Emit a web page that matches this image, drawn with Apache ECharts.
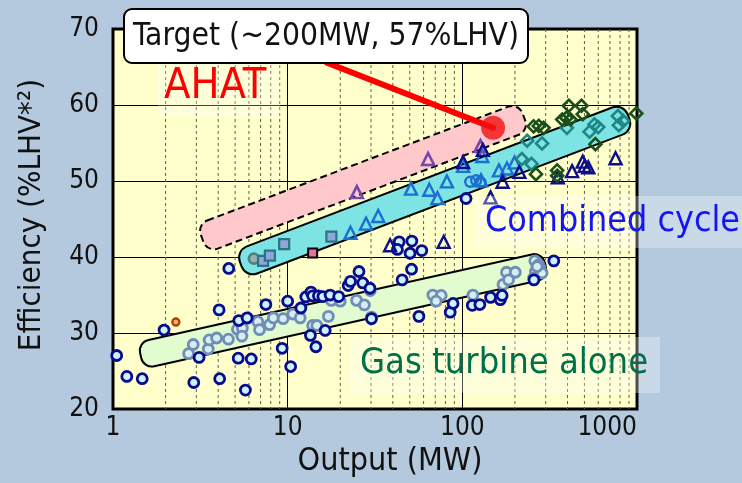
<!DOCTYPE html>
<html>
<head>
<meta charset="utf-8">
<script src="https://cdn.jsdelivr.net/npm/echarts@6/dist/echarts.min.js"></script>
<style>
  html, body { margin: 0; padding: 0; background: #b4c9dd; }
  #chart { width: 742px; height: 483px; }
</style>
</head>
<body>
<div id="chart"></div>
<script>
// Efficiency vs output of gas-turbine plants (log output axis)
const FONT = "'DejaVu Sans Condensed', 'DejaVu Sans', sans-serif";

const xTickLabels = [1, 10, 100, 1000];
const yTickLabels = [20, 30, 40, 50, 60, 70];
const xMinorLines = [2, 3, 4, 5, 6, 7, 8, 9, 20, 30, 40, 50, 60, 70, 80, 90,
                     200, 300, 400, 500, 600, 700, 800, 900];

// Gas turbine alone (simple cycle) plants
const gasTurbineNavy = [
  [1.05, 27.05], [1.2, 24.3], [1.47, 24.0], [1.96, 30.4], [2.9, 23.5], [3.11, 26.8],
  [4.05, 33.05], [4.08, 24.0], [5.21, 26.7], [5.73, 22.5], [6.19, 26.6], [5.25, 31.65],
  [5.86, 32.0], [4.6, 38.5], [7.5, 33.75], [9.3, 28.0], [10.0, 34.2], [10.4, 25.6],
  [11.9, 33.3], [12.7, 34.75], [13.6, 35.4], [13.9, 34.9], [13.5, 29.7], [14.5, 28.2],
  [15.0, 34.9], [15.9, 34.8], [16.4, 30.35], [17.5, 35.0], [19.6, 34.8], [22.2, 36.25],
  [22.9, 36.8], [25.6, 38.1], [26.9, 36.6], [29.6, 35.9], [30.2, 31.9], [43.5, 42.0],
  [51.4, 42.1], [42.5, 41.0], [50.2, 40.5], [58.6, 40.85], [51.2, 38.4], [45.2, 37.0],
  [56.4, 32.2], [85.2, 32.75], [88.5, 33.9], [114, 33.65], [126, 33.75], [145, 34.7],
  [165, 34.4], [169, 34.95], [257, 37.0], [334, 39.5], [105, 47.7]
];
const gasTurbineGrey = [
  [2.71, 27.3], [2.88, 28.5], [3.51, 27.9], [3.55, 29.1], [3.92, 29.35], [4.58, 29.2],
  [5.16, 30.5], [5.5, 30.65], [5.47, 29.6], [5.88, 31.95], [6.75, 31.5], [6.9, 30.45],
  [7.88, 31.1], [8.28, 32.0], [9.42, 31.9], [10.7, 32.5], [11.8, 32.0], [13.9, 31.0],
  [14.7, 31.0], [17.1, 32.2], [17.8, 34.3], [20.0, 34.2], [24.8, 34.3], [27.5, 33.7],
  [29.7, 35.6], [30.2, 32.1], [67.8, 35.0], [75.7, 34.95], [70.8, 34.2], [115, 35.0],
  [171, 36.4], [179, 38.0], [201, 38.0], [184, 37.0], [260, 39.5], [274, 39.0],
  [278, 38.55], [262, 38.1], [256, 37.25], [286, 37.9], [268, 38.75]
];
const gasTurbineOrange = [[2.29, 31.45]];

// Combined cycle plants
const ccSquares = [[7.23, 39.5], [7.91, 40.2], [9.55, 41.7], [17.8, 42.7]];
const ccPinkSquare = [[13.9, 40.55]];
const ccGreyCircle = [[6.4, 39.8]];
const ccBlueTriangles = [
  [22.9, 43.2], [28.1, 44.4], [33.0, 45.4], [50.8, 49.0], [64.7, 48.85], [72, 47.75],
  [81.6, 49.95], [101, 52.0], [130, 53.3], [162, 51.4], [180, 51.65], [199, 52.45], [128, 50.1]
];
const ccBlueCircles = [[111, 49.9], [120, 50.1], [127, 49.85]];
const ccPurpleTriangles = [[24.9, 48.55], [63.7, 52.9], [127, 54.6]];
const ccNavyTriangles = [
  [38.6, 41.55], [78.2, 42.0], [101, 52.5], [131, 54.1], [170, 49.9], [145, 47.85],
  [212, 51.2], [425, 51.3], [489, 52.55], [502, 52.0], [526, 51.8], [754, 53.0], [352, 50.5]
];
const ccGreenDiamonds = [
  [407, 59.9], [481, 59.9], [489, 58.8], [991, 58.9], [373, 58.1], [394, 58.3],
  [416, 58.1], [256, 57.2], [274, 57.25], [292, 57.0], [578, 54.85], [264, 50.9],
  [349, 51.4], [349, 50.7]
];
const ccTealDiamonds = [
  [235, 55.3], [286, 54.95], [219, 52.9], [249, 52.25], [397, 57.0], [535, 56.5],
  [571, 57.45], [600, 57.1], [777, 58.55], [834, 57.9], [787, 57.35]
];

// Trend bands: centre-line start and end (output MW, efficiency %)
const bandNames = ['AHAT', 'Combined cycle', 'Gas turbine alone'];
const bandStart = [[3.24, 42.45], [5.39, 39.06], [1.44, 27.05]];
const bandEnd = [[225, 58.45], [895, 58.45], [299, 38.93]];

// AHAT target and its leader line
const targetPoint = [150, 57];
const leaderStart = [16.8, 65.56];

const bandStyles = [
  { fill: '#ffc9cc', dash: [7, 4], thick: 30, r: 11 },
  { fill: '#7ee3e3', dash: null, thick: 29, r: 12 },
  { fill: '#e2fbcf', dash: null, thick: 27, r: 11 }
];

function bandItem(params, api) {
  const p1 = api.coord([api.value(0), api.value(1)]);
  const p2 = api.coord([api.value(2), api.value(3)]);
  const s = bandStyles[params.dataIndex];
  const dx = p2[0] - p1[0], dy = p2[1] - p1[1];
  const len = Math.hypot(dx, dy);
  return {
    type: 'group',
    x: p1[0], y: p1[1],
    rotation: -Math.atan2(dy, dx),
    children: [{
      type: 'rect',
      shape: { x: 0, y: -s.thick / 2, width: len, height: s.thick, r: s.r },
      style: { fill: s.fill, stroke: '#000', lineWidth: 2, lineDash: s.dash }
    }]
  };
}

function minorGridItem(params, api) {
  const x = api.value(0);
  const a = api.coord([x, 70]);
  const b = api.coord([x, 20]);
  return {
    type: 'line',
    shape: { x1: a[0], y1: a[1], x2: b[0], y2: b[1] },
    style: { stroke: '#5e5e50', lineWidth: 1, lineDash: [3, 3] }
  };
}

function scatter(name, data, symbol, size, fill, stroke, bw) {
  return {
    type: 'scatter', name, data, symbol, symbolSize: size,
    itemStyle: { color: fill, borderColor: stroke, borderWidth: bw, opacity: 1 },
    emphasis: { disabled: true }, z: 5
  };
}

const chart = echarts.init(document.getElementById('chart'));
chart.setOption({
  backgroundColor: '#b4c9dd',
  animation: false,
  grid: {
    left: 113, right: 105, top: 29, bottom: 71,
    show: true, backgroundColor: '#ffffcc', borderColor: '#000', borderWidth: 3
  },
  xAxis: {
    type: 'log', logBase: 10, min: xTickLabels[0], max: xTickLabels[xTickLabels.length - 1],
    name: 'Output (MW)', nameLocation: 'middle', nameGap: 35,
    nameTextStyle: { fontSize: 32, color: '#111', fontFamily: FONT, padding: [0, 0, 0, 30] },
    axisLine: { show: false }, axisTick: { show: false },
    axisLabel: {
      fontSize: 26, color: '#111', fontFamily: FONT, margin: 6, alignMaxLabel: 'right',
      formatter: v => String(Math.round(v))
    },
    splitLine: { show: true, lineStyle: { color: '#000', width: 1 } }
  },
  yAxis: {
    type: 'value', min: yTickLabels[0], max: yTickLabels[yTickLabels.length - 1], interval: 10,
    name: 'Efficiency (%LHV*²)', nameLocation: 'middle', nameGap: 66,
    nameTextStyle: { fontSize: 31, color: '#111', fontFamily: FONT, padding: [0, 0, 0, 8] },
    axisLine: { show: false }, axisTick: { show: false },
    axisLabel: { fontSize: 26, color: '#111', fontFamily: FONT, margin: 14 },
    splitLine: { show: true, lineStyle: { color: '#000', width: 1 } }
  },
  series: [
    {
      type: 'custom', name: 'minor grid', renderItem: minorGridItem,
      data: xMinorLines.map(v => [v, 20]), encode: { x: 0, y: 1 }, silent: true, z: 1
    },
    {
      type: 'custom', name: 'bands', renderItem: bandItem, clip: false,
      data: bandNames.map((n, i) => [bandStart[i][0], bandStart[i][1], bandEnd[i][0], bandEnd[i][1]]),
      encode: { x: [0, 2], y: [1, 3] }, silent: true, z: 2
    },
    scatter('GT grey', gasTurbineGrey, 'circle', 10, '#d6eef2', '#6f8db5', 2.8),
    scatter('GT navy', gasTurbineNavy, 'circle', 10, '#c9f3ff', '#0a0a8c', 2.8),
    scatter('GT orange', gasTurbineOrange, 'circle', 7, '#f0b080', '#b84200', 2.4),
    scatter('CC grey circle', ccGreyCircle, 'circle', 10, '#9ab0b0', '#4f8080', 2.6),
    scatter('CC squares', ccSquares, 'rect', 10, '#8fa6da', '#2a7585', 2.2),
    scatter('CC pink square', ccPinkSquare, 'rect', 9, '#e6719f', '#000', 2),
    scatter('CC blue triangles', ccBlueTriangles, 'triangle', 12, 'rgba(0,0,0,0)', '#1c6fd2', 2.4),
    scatter('CC blue circles', ccBlueCircles, 'circle', 10, 'rgba(0,0,0,0)', '#1c6fd2', 2.4),
    scatter('CC purple triangles', ccPurpleTriangles, 'triangle', 12, 'rgba(0,0,0,0)', '#7546ad', 2.6),
    scatter('CC navy triangles', ccNavyTriangles, 'triangle', 12, 'rgba(0,0,0,0)', '#0e0e8a', 2.4),
    scatter('CC teal diamonds', ccTealDiamonds, 'diamond', 12, 'rgba(0,0,0,0)', '#208585', 2.6),
    scatter('CC green diamonds', ccGreenDiamonds, 'diamond', 12, 'rgba(0,0,0,0)', '#1b4f1b', 2.6),
    {
      type: 'line', name: 'leader', data: [leaderStart, targetPoint], symbol: 'none',
      lineStyle: { color: '#ff0000', width: 6, cap: 'round' }, silent: true, z: 8, clip: false
    },
    {
      type: 'scatter', name: 'target', data: [targetPoint], symbol: 'circle', symbolSize: 24,
      itemStyle: { color: '#f01010' }, silent: true, z: 9
    }
  ],
  graphic: [
    { type: 'rect', z: 100, shape: { x: 158, y: 63, width: 122, height: 55 }, style: { fill: 'rgba(255,255,255,0.25)' } },
    { type: 'rect', z: 100, shape: { x: 475, y: 196, width: 267, height: 52 }, style: { fill: 'rgba(255,255,255,0.3)' } },
    { type: 'rect', z: 100, shape: { x: 350, y: 337, width: 310, height: 56 }, style: { fill: 'rgba(255,255,255,0.3)' } },
    {
      type: 'text', z: 101, x: 164, y: 87,
      style: { text: 'AHAT', fill: '#ff0000', font: '43px ' + FONT, verticalAlign: 'middle' }
    },
    {
      type: 'text', z: 101, x: 485, y: 222,
      style: { text: 'Combined cycle', fill: '#1414f5', font: '35.5px ' + FONT, verticalAlign: 'middle' }
    },
    {
      type: 'text', z: 101, x: 360, y: 364,
      style: { text: 'Gas turbine alone', fill: '#00704a', font: '36px ' + FONT, verticalAlign: 'middle' }
    },
    {
      type: 'rect', z: 102, shape: { x: 124, y: 9, width: 404, height: 54, r: 8 },
      style: { fill: '#fff', stroke: '#000', lineWidth: 2 }
    },
    {
      type: 'text', z: 103, x: 326, y: 37,
      style: { text: 'Target (~200MW, 57%LHV)', fill: '#111', font: '31.5px ' + FONT, align: 'center', verticalAlign: 'middle' }
    }
  ]
});
</script>
</body>
</html>
